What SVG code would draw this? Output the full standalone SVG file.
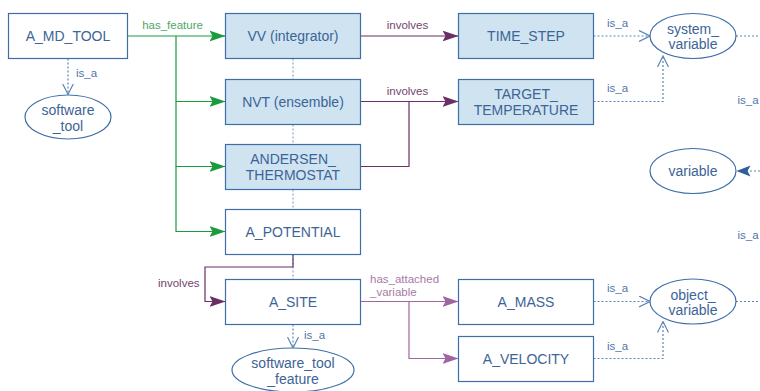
<svg xmlns="http://www.w3.org/2000/svg" width="760" height="391" viewBox="0 0 760 391">
  <style>
    .box { stroke: #3d6ea8; stroke-width: 1.2; fill: #ffffff; }
    .feat { fill: #cfe3f1; }
    .ell { stroke: #3d6ea8; stroke-width: 1.2; fill: #ffffff; }
    .lbl { font-family: "Liberation Sans", Arial, sans-serif; font-size: 14px; fill: #3d6496; text-anchor: middle; }
    .elbl { font-family: "Liberation Sans", Arial, sans-serif; font-size: 11.5px; }
    .isa-t { fill: #4f76a8; }
    .feat-t { fill: #4fa866; }
    .inv-t { fill: #74456f; }
    .att-t { fill: #a77aa7; }
    .c-feat { stroke: #1a9c3c; stroke-width: 1.2; fill: none; }
    .c-inv { stroke: #6a2f66; stroke-width: 1.2; fill: none; }
    .c-att { stroke: #a065a0; stroke-width: 1.2; fill: none; }
    .c-isa { stroke: #5b84b8; stroke-width: 1.2; fill: none; stroke-dasharray: 2 2; }
    .c-dot { stroke: #8aa6c8; stroke-width: 1.2; fill: none; stroke-dasharray: 2 2; }
  </style>
  <defs>
    <marker id="arrFeat" markerWidth="16" markerHeight="12" refX="16" refY="6" orient="auto" markerUnits="userSpaceOnUse">
      <path d="M0,0.5 L16,6 L0,11.5 L3,6 z" fill="#1a9c3c"/>
    </marker>
    <marker id="arrInv" markerWidth="16" markerHeight="12" refX="16" refY="6" orient="auto" markerUnits="userSpaceOnUse">
      <path d="M0,0.5 L16,6 L0,11.5 L3,6 z" fill="#6a2f66"/>
    </marker>
    <marker id="arrAtt" markerWidth="16" markerHeight="12" refX="16" refY="6" orient="auto" markerUnits="userSpaceOnUse">
      <path d="M0,0.5 L16,6 L0,11.5 L3,6 z" fill="#a065a0"/>
    </marker>
    <marker id="arrIsa" markerWidth="12" markerHeight="12" refX="11" refY="6" orient="auto" markerUnits="userSpaceOnUse">
      <path d="M0,0.5 L11,6 L0,11.5" fill="none" stroke="#5b84b8" stroke-width="1.2"/>
    </marker>
    <marker id="arrBlue" markerWidth="16" markerHeight="12" refX="14" refY="6" orient="auto" markerUnits="userSpaceOnUse">
      <path d="M0,0.5 L14,6 L0,11.5 L3,6 z" fill="#2f5f99"/>
    </marker>
  </defs>

  <!-- connectors -->
  <g id="connectors">
    <!-- feature column spine -->
    <path class="c-dot" d="M293,58.5 V79.5 M293,124.5 V144.5 M293,189.5 V209.5 M293,254.5 V279.5"/>
    <!-- has_feature -->
    <path class="c-feat" d="M127.5,36 H225.5" marker-end="url(#arrFeat)"/>
    <path class="c-feat" d="M176,36 V101.5 H225.5" marker-end="url(#arrFeat)"/>
    <path class="c-feat" d="M176,101.5 V166.5 H225.5" marker-end="url(#arrFeat)"/>
    <path class="c-feat" d="M176,166.5 V231.5 H225.5" marker-end="url(#arrFeat)"/>
    <!-- involves -->
    <path class="c-inv" d="M360.5,36 H458.5" marker-end="url(#arrInv)"/>
    <path class="c-inv" d="M360.5,101.5 H458.5" marker-end="url(#arrInv)"/>
    <path class="c-inv" d="M360.5,166.5 H409 V101.5"/>
    <path class="c-inv" d="M293,254.5 V267 H205 V301.5 H225.5" marker-end="url(#arrInv)"/>
    <!-- has_attached_variable -->
    <path class="c-att" d="M360.5,301.5 H458.5" marker-end="url(#arrAtt)"/>
    <path class="c-att" d="M409,301.5 V358.5 H458.5" marker-end="url(#arrAtt)"/>
    <!-- is_a -->
    <path class="c-isa" d="M68,58.5 V94.5" marker-end="url(#arrIsa)"/>
    <path class="c-isa" d="M293,324.5 V348" marker-end="url(#arrIsa)"/>
    <path class="c-isa" d="M593.5,36 H650" marker-end="url(#arrIsa)"/>
    <path class="c-isa" d="M593.5,101.5 H663 V56" marker-end="url(#arrIsa)"/>
    <path class="c-isa" d="M593.5,301.5 H650" marker-end="url(#arrIsa)"/>
    <path class="c-isa" d="M593.5,358.5 H663 V321.5" marker-end="url(#arrIsa)"/>
    <path class="c-isa" d="M736,36 H760"/>
    <path class="c-isa" d="M736,301.5 H760"/>
    <path class="c-isa" d="M760,171 H736.5" marker-end="url(#arrBlue)"/>

    <!-- edge labels -->
    <text class="elbl feat-t" x="172.5" y="29" text-anchor="middle">has_feature</text>
    <text class="elbl isa-t" x="76" y="77">is_a</text>
    <text class="elbl inv-t" x="407.5" y="29" text-anchor="middle">involves</text>
    <text class="elbl inv-t" x="407.5" y="94.5" text-anchor="middle">involves</text>
    <text class="elbl inv-t" x="158" y="286.5">involves</text>
    <text class="elbl att-t" x="370" y="283">has_attached</text>
    <text class="elbl att-t" x="370" y="296">_variable</text>
    <text class="elbl isa-t" x="304" y="339">is_a</text>
    <text class="elbl isa-t" x="607" y="27">is_a</text>
    <text class="elbl isa-t" x="607" y="92">is_a</text>
    <text class="elbl isa-t" x="607" y="292">is_a</text>
    <text class="elbl isa-t" x="607" y="350">is_a</text>
    <text class="elbl isa-t" x="737.5" y="104">is_a</text>
    <text class="elbl isa-t" x="737.5" y="239">is_a</text>
  </g>

  <!-- nodes -->
  <g id="a_md_tool">
    <rect class="box" x="8.5" y="13.5" width="119" height="45"/>
    <text class="lbl" x="68" y="41">A_MD_TOOL</text>
  </g>
  <g id="software_tool">
    <ellipse class="ell" cx="68" cy="117" rx="43" ry="22"/>
    <text class="lbl" x="68" y="115">software</text>
    <text class="lbl" x="68" y="131">_tool</text>
  </g>
  <g id="vv_integrator">
    <rect class="box feat" x="225.5" y="13.5" width="135" height="45"/>
    <text class="lbl" x="293" y="41">VV (integrator)</text>
  </g>
  <g id="nvt_ensemble">
    <rect class="box feat" x="225.5" y="79.5" width="135" height="45"/>
    <text class="lbl" x="293" y="106.5">NVT (ensemble)</text>
  </g>
  <g id="andersen_thermostat">
    <rect class="box feat" x="225.5" y="144.5" width="135" height="45"/>
    <text class="lbl" x="293" y="164">ANDERSEN_</text>
    <text class="lbl" x="293" y="180">THERMOSTAT</text>
  </g>
  <g id="a_potential">
    <rect class="box" x="225.5" y="209.5" width="135" height="45"/>
    <text class="lbl" x="293" y="237">A_POTENTIAL</text>
  </g>
  <g id="a_site">
    <rect class="box" x="225.5" y="279.5" width="135" height="45"/>
    <text class="lbl" x="293" y="307">A_SITE</text>
  </g>
  <g id="software_tool_feature">
    <ellipse class="ell" cx="293" cy="370" rx="61" ry="22"/>
    <text class="lbl" x="293" y="368">software_tool</text>
    <text class="lbl" x="293" y="384">_feature</text>
  </g>
  <g id="time_step">
    <rect class="box feat" x="458.5" y="13.5" width="135" height="45"/>
    <text class="lbl" x="526" y="41">TIME_STEP</text>
  </g>
  <g id="target_temperature">
    <rect class="box feat" x="458.5" y="79.5" width="135" height="45"/>
    <text class="lbl" x="526" y="98.5">TARGET_</text>
    <text class="lbl" x="526" y="114.5">TEMPERATURE</text>
  </g>
  <g id="a_mass">
    <rect class="box" x="458.5" y="279.5" width="135" height="45"/>
    <text class="lbl" x="526" y="307">A_MASS</text>
  </g>
  <g id="a_velocity">
    <rect class="box" x="458.5" y="336.5" width="135" height="45"/>
    <text class="lbl" x="526" y="364">A_VELOCITY</text>
  </g>
  <g id="system_variable">
    <ellipse class="ell" cx="693" cy="36" rx="43" ry="22.5"/>
    <text class="lbl" x="693" y="34">system_</text>
    <text class="lbl" x="693" y="49">variable</text>
  </g>
  <g id="variable">
    <ellipse class="ell" cx="693" cy="171" rx="43" ry="22.5"/>
    <text class="lbl" x="693" y="176">variable</text>
  </g>
  <g id="object_variable">
    <ellipse class="ell" cx="693" cy="301.5" rx="43" ry="22.5"/>
    <text class="lbl" x="693" y="299.5">object_</text>
    <text class="lbl" x="693" y="315">variable</text>
  </g>
</svg>
